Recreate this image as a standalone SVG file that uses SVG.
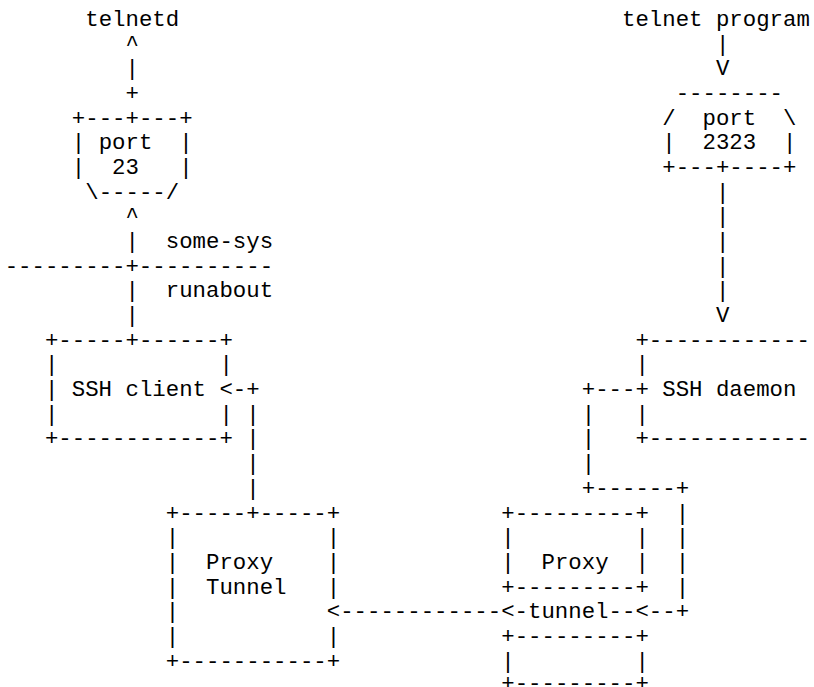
<svg xmlns="http://www.w3.org/2000/svg" width="814" height="687" viewBox="0 0 814 687" xml:space="preserve">
<style>
text{font-family:"Liberation Mono","Courier New",monospace;font-size:22.37px;fill:#000;white-space:pre}
</style>
<rect width="814" height="687" fill="#fff"/>
<g id="connectors">
<text x="125.48" y="50.77">^</text>
<text x="125.48" y="75.44">|</text>
<text x="125.48" y="100.11">+</text>
<text x="125.48" y="223.46">^</text>
<text x="125.48" y="248.13">|</text>
<text x="125.48" y="297.47">|</text>
<text x="125.48" y="322.14">|</text>
<text x="715.96" y="50.77">|</text>
<text x="715.96" y="75.44">V</text>
<text x="715.96" y="198.79">|</text>
<text x="715.96" y="223.46">|</text>
<text x="715.96" y="248.13">|</text>
<text x="715.96" y="272.8">|</text>
<text x="715.96" y="297.47">|</text>
<text x="715.96" y="322.14">V</text>
<text x="219.42" y="396.15">&lt;-+</text>
<text x="246.26" y="420.82">|</text>
<text x="246.26" y="445.49">|</text>
<text x="246.26" y="470.16">|</text>
<text x="246.26" y="494.83">|</text>
<text x="581.76" y="396.15">+---+</text>
<text x="581.76" y="420.82">|</text>
<text x="581.76" y="445.49">|</text>
<text x="581.76" y="470.16">|</text>
<text x="581.76" y="494.83">+------+</text>
<text x="675.7" y="519.5">|</text>
<text x="675.7" y="544.17">|</text>
<text x="675.7" y="568.84">|</text>
<text x="675.7" y="593.51">|</text>
<text x="326.78" y="618.18">&lt;------------&lt;-tunnel--&lt;--+</text>
</g>
<g id="telnetd">
<text x="85.22" y="26.1">telnetd</text>
</g>
<g id="port23">
<text x="71.8" y="124.78">+---+---+</text>
<text x="71.8" y="149.45">| port  |</text>
<text x="71.8" y="174.12">|  23   |</text>
<text x="85.22" y="198.79">\-----/</text>
</g>
<g id="network">
<text x="165.74" y="248.13">some-sys</text>
<text x="4.7" y="272.8">---------+----------</text>
<text x="165.74" y="297.47">runabout</text>
</g>
<g id="ssh-client">
<text x="44.96" y="346.81">+-----+------+</text>
<text x="44.96" y="371.48">|            |</text>
<text x="44.96" y="396.15">| SSH client</text>
<text x="44.96" y="420.82">|            |</text>
<text x="44.96" y="445.49">+------------+</text>
</g>
<g id="proxy-tunnel">
<text x="165.74" y="519.5">+-----+-----+</text>
<text x="165.74" y="544.17">|           |</text>
<text x="165.74" y="568.84">|  Proxy    |</text>
<text x="165.74" y="593.51">|  Tunnel   |</text>
<text x="165.74" y="618.18">|</text>
<text x="165.74" y="642.85">|           |</text>
<text x="165.74" y="667.52">+-----------+</text>
</g>
<g id="telnet-program">
<text x="622.02" y="26.1">telnet program</text>
</g>
<g id="port2323">
<text x="675.7" y="100.11">--------</text>
<text x="662.28" y="124.78">/  port  \</text>
<text x="662.28" y="149.45">|  2323  |</text>
<text x="662.28" y="174.12">+---+----+</text>
</g>
<g id="ssh-daemon">
<text x="635.44" y="346.81">+------------</text>
<text x="635.44" y="371.48">|</text>
<text x="662.28" y="396.15">SSH daemon</text>
<text x="635.44" y="420.82">|</text>
<text x="635.44" y="445.49">+------------</text>
</g>
<g id="proxy">
<text x="501.24" y="519.5">+---------+</text>
<text x="501.24" y="544.17">|         |</text>
<text x="501.24" y="568.84">|  Proxy  |</text>
<text x="501.24" y="593.51">+---------+</text>
</g>
<g id="proxy-lower">
<text x="501.24" y="642.85">+---------+</text>
<text x="501.24" y="667.52">|         |</text>
<text x="501.24" y="690">+---------+</text>
</g>
</svg>
